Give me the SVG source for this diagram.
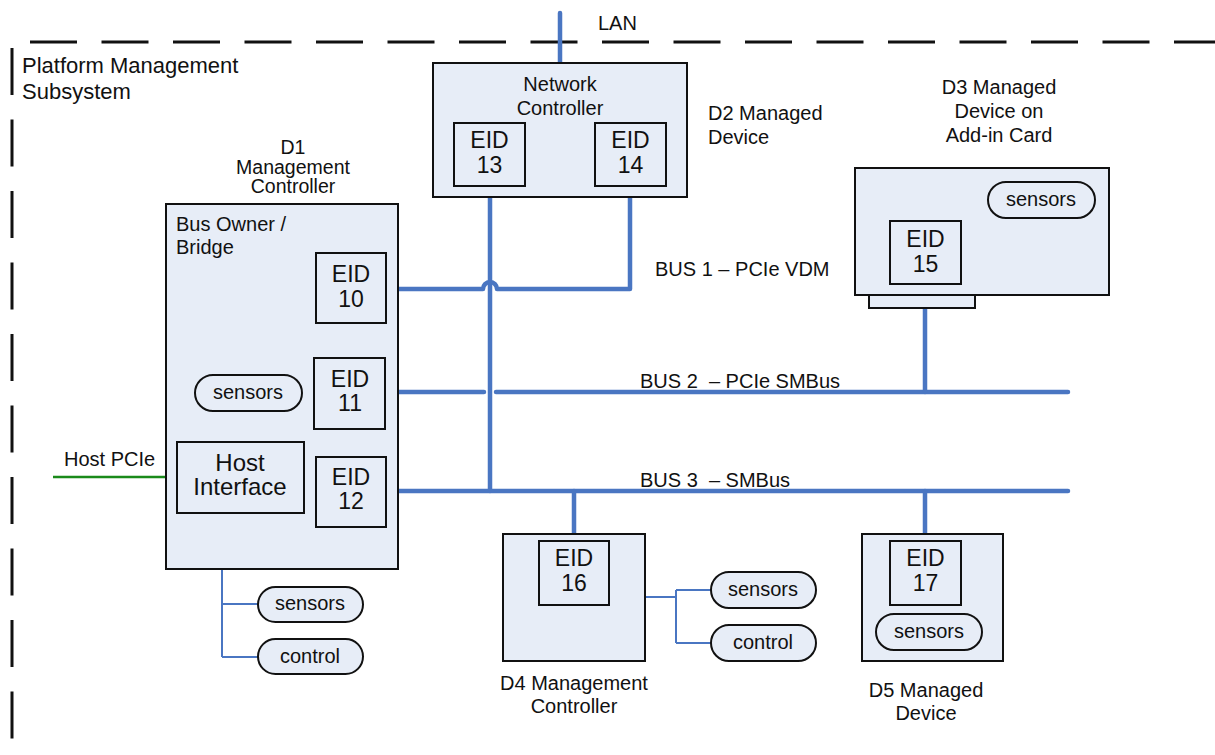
<svg xmlns="http://www.w3.org/2000/svg" width="1215" height="755" viewBox="0 0 1215 755">
<style>
text{font-family:"Liberation Sans",Arial,sans-serif;font-size:20px;fill:#111}
.c{text-anchor:middle}
.eid{font-size:23px;text-anchor:middle}
.box{fill:#e7edf7;stroke:#111;stroke-width:2}
.pill{fill:#e7edf7;stroke:#111;stroke-width:2}
.bus{fill:none;stroke:#4a76c2;stroke-width:4.5;stroke-linecap:round;stroke-linejoin:round}
.thin{fill:none;stroke:#4a76c2;stroke-width:2}
.dash{fill:none;stroke:#111;stroke-width:3;stroke-dasharray:47 24.5}
</style>
<rect width="1215" height="755" fill="#fff"/>
<g id="boundary">
<line class="dash" x1="30" y1="42" x2="1215" y2="42"/>
<line class="dash" x1="12" y1="48" x2="12" y2="755"/>
<text x="22" y="73" style="font-size:22px">Platform Management</text>
<text x="22" y="99" style="font-size:22px">Subsystem</text>
</g>
<g id="connectors">
<line class="bus" x1="560" y1="13" x2="560" y2="62"/>
<path class="bus" d="M386 289 H483 A7 7 0 0 1 497 289 H630 V186"/>
<path class="bus" d="M490 186 V491"/>
<path class="bus" d="M386 392 H484 M496 392 H1068"/>
<path class="bus" d="M386 491 H1068"/>
<path class="bus" d="M925 284 V392"/>
<path class="bus" d="M574 491 V541"/>
<path class="bus" d="M925 491 V541"/>
<path class="thin" d="M222 565 V657 M222 604 H258 M222 657 H258"/>
<path class="thin" d="M645 597 H676 M676 590 V643 M676 590 H711 M676 643 H711"/>
<line x1="53" y1="477" x2="177" y2="477" stroke="#1a8a1a" stroke-width="2.5"/>
<text x="655" y="276">BUS 1 – PCIe VDM</text>
<text x="640" y="388" xml:space="preserve">BUS 2  – PCIe SMBus</text>
<text x="640" y="487" xml:space="preserve">BUS 3  – SMBus</text>
<text x="598" y="30">LAN</text>
<text x="64" y="466">Host PCIe</text>
</g>
<g id="d1">
<text class="c" x="293" y="154" style="font-size:19.5px">D1</text>
<text class="c" x="293" y="173.5" style="font-size:19.5px">Management</text>
<text class="c" x="293" y="193" style="font-size:19.5px">Controller</text>
<rect class="box" x="166" y="204" width="232" height="365"/>
<text x="176" y="231">Bus Owner /</text>
<text x="176" y="254">Bridge</text>
</g>
<g id="eid10"><rect class="box" x="316" y="253" width="70" height="70"/><text class="eid" x="351" y="282">EID</text><text class="eid" x="351" y="307">10</text></g>
<g id="eid11"><rect class="box" x="314" y="358" width="71" height="71"/><text class="eid" x="350" y="387">EID</text><text class="eid" x="350" y="411">11</text></g>
<g id="eid12"><rect class="box" x="316" y="457" width="70" height="70"/><text class="eid" x="351" y="485">EID</text><text class="eid" x="351" y="509">12</text></g>
<g id="d1-sensors"><rect class="pill" x="195" y="375" width="107" height="36" rx="18"/><text class="c" x="248" y="399">sensors</text></g>
<g id="host-interface"><rect class="box" x="177" y="442" width="127" height="71"/><text class="c" x="240" y="471" style="font-size:24px">Host</text><text class="c" x="240" y="495" style="font-size:24px">Interface</text></g>
<g id="d1-ext-sensors"><rect class="pill" x="258" y="587" width="105" height="35" rx="17.5"/><text class="c" x="310" y="610">sensors</text></g>
<g id="d1-ext-control"><rect class="pill" x="258" y="639" width="105" height="35" rx="17.5"/><text class="c" x="310" y="663">control</text></g>
<g id="d2">
<rect class="box" x="433" y="63" width="254" height="134"/>
<text class="c" x="560" y="91">Network</text>
<text class="c" x="560" y="115">Controller</text>
<text x="708" y="120">D2 Managed</text>
<text x="708" y="144">Device</text>
</g>
<g id="eid13"><rect class="box" x="454" y="123" width="71" height="63"/><text class="eid" x="489.5" y="148">EID</text><text class="eid" x="489.5" y="173">13</text></g>
<g id="eid14"><rect class="box" x="595" y="123" width="71" height="63"/><text class="eid" x="630.5" y="148">EID</text><text class="eid" x="630.5" y="173">14</text></g>
<g id="d3">
<text class="c" x="999" y="94">D3 Managed</text>
<text class="c" x="999" y="118">Device on</text>
<text class="c" x="999" y="142">Add-in Card</text>
<rect class="box" x="869" y="290" width="106" height="18"/>
<rect class="box" x="855" y="168" width="254" height="127"/>
<rect class="pill" x="988" y="182" width="107" height="36" rx="18"/>
<text class="c" x="1041" y="206">sensors</text>
</g>
<g id="eid15"><rect class="box" x="890" y="221" width="71" height="63"/><text class="eid" x="925.5" y="247">EID</text><text class="eid" x="925.5" y="272">15</text></g>
<g id="d4">
<rect class="box" x="503" y="534" width="142" height="127"/>
<text class="c" x="574" y="690">D4 Management</text>
<text class="c" x="574" y="713">Controller</text>
</g>
<g id="eid16"><rect class="box" x="539" y="541" width="70" height="64"/><text class="eid" x="574" y="566">EID</text><text class="eid" x="574" y="591">16</text></g>
<g id="d4-sensors"><rect class="pill" x="711" y="572" width="105" height="36" rx="18"/><text class="c" x="763" y="596">sensors</text></g>
<g id="d4-control"><rect class="pill" x="711" y="625" width="105" height="36" rx="18"/><text class="c" x="763" y="649">control</text></g>
<g id="d5">
<rect class="box" x="862" y="534" width="141" height="127"/>
<text class="c" x="926" y="697">D5 Managed</text>
<text class="c" x="926" y="720">Device</text>
<rect class="pill" x="876" y="614" width="106" height="36" rx="18"/>
<text class="c" x="929" y="638">sensors</text>
</g>
<g id="eid17"><rect class="box" x="890" y="541" width="71" height="64"/><text class="eid" x="925.5" y="566">EID</text><text class="eid" x="925.5" y="591">17</text></g>
</svg>
